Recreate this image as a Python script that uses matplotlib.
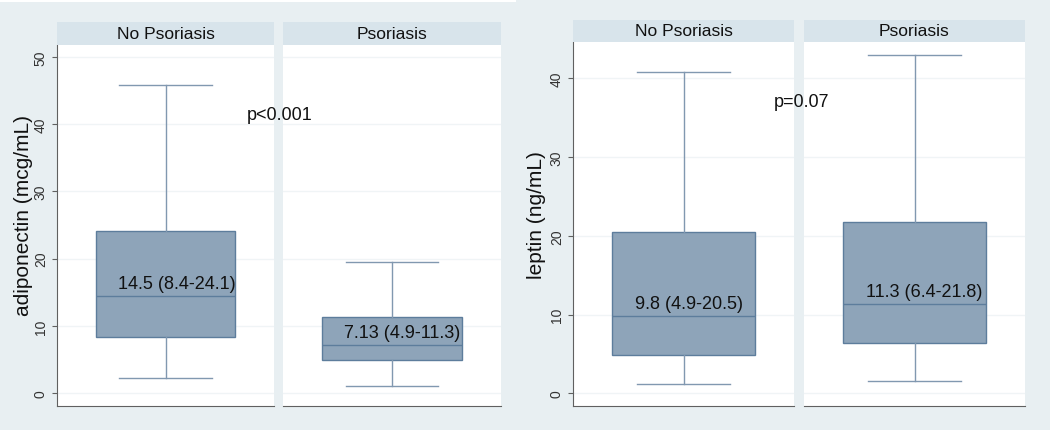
import matplotlib
matplotlib.use("Agg")
import matplotlib.pyplot as plt
from matplotlib.patches import Rectangle

plt.rcParams['font.family'] = ['Liberation Sans', 'DejaVu Sans']

# ---------------- data ----------------
groups = ["No Psoriasis", "Psoriasis"]

adipo_med = [14.5, 7.13]
adipo_q1 = [8.4, 4.9]
adipo_q3 = [24.1, 11.3]
adipo_lo = [2.3, 1.1]
adipo_hi = [45.8, 19.5]
adipo_labels = ["14.5 (8.4-24.1)", "7.13 (4.9-11.3)"]
adipo_ticks = [0, 10, 20, 30, 40, 50]
adipo_p = "p<0.001"

lep_med = [9.8, 11.3]
lep_q1 = [4.9, 6.4]
lep_q3 = [20.5, 21.8]
lep_lo = [1.2, 1.6]
lep_hi = [40.8, 42.9]
lep_labels = ["9.8 (4.9-20.5)", "11.3 (6.4-21.8)"]
lep_ticks = [0, 10, 20, 30, 40]
lep_p = "p=0.07"

# ---------------- style ----------------
W, H = 1050, 431
BG = "#e8eff2"
STRIP = "#d8e4eb"
BOX_FILL = "#8ea4b9"
BOX_EDGE = "#5d7d9c"
WHISK = "#8198b0"
GRID = "#f0f4f6"
AXC = "#606060"
TXT = "#111111"

fig = plt.figure(figsize=(W / 100, H / 100), dpi=100, facecolor=BG)
fig.add_artist(Rectangle((0, 1 - 3 / H), 516 / W, 3 / H, transform=fig.transFigure,
                         facecolor="white", edgecolor="none", zorder=-1))


def px_axes(x0, x1, ytop, ybot):
    return fig.add_axes([x0 / W, 1 - ybot / H, (x1 - x0) / W, (ybot - ytop) / H])


def make_block(panels_x, ytop_strip, ytop, ybot, ylim, ticks, med, q1, q3, lo, hi,
               labels, ylabel, pstr, pxy, label_coords):
    axes = []
    for i, (x0, x1) in enumerate(panels_x):
        ax = px_axes(x0, x1, ytop, ybot)
        ax.set_facecolor("white")
        stats = [dict(med=med[i], q1=q1[i], q3=q3[i], whislo=lo[i], whishi=hi[i], fliers=[])]
        ax.bxp(stats, positions=[0], widths=0.643, capwidths=0.425, showfliers=False,
               patch_artist=True,
               boxprops=dict(facecolor=BOX_FILL, edgecolor=BOX_EDGE, linewidth=1.0),
               medianprops=dict(color=BOX_EDGE, linewidth=1.0),
               whiskerprops=dict(color=WHISK, linewidth=1.0),
               capprops=dict(color=WHISK, linewidth=1.0))
        ax.set_xlim(-0.5, 0.5)
        ax.set_ylim(*ylim)
        ax.set_yticks(ticks)
        ax.grid(axis="y", color=GRID, linewidth=1.0, zorder=0)
        ax.set_axisbelow(True)
        ax.set_xticks([])
        for s in ["top", "right"]:
            ax.spines[s].set_visible(False)
        ax.spines["bottom"].set_color(AXC)
        ax.spines["left"].set_color(AXC)
        if i == 0:
            ax.tick_params(axis="y", length=3.6, width=0.8, color=AXC, pad=3.0,
                           labelsize=10, labelcolor="#333333", labelrotation=90)
            for t in ax.get_yticklabels():
                t.set_va("center")
            ax.set_ylabel(ylabel, fontsize=15, color=TXT)
            ax.yaxis.set_label_coords(*label_coords)
        else:
            ax.spines["left"].set_visible(False)
            ax.tick_params(axis="y", length=0, labelleft=False)
        ax.annotate(labels[i], xy=(-0.22, med[i]), xytext=(0, 9),
                    textcoords="offset points", ha="left", va="center",
                    fontsize=13, color=TXT, zorder=5, annotation_clip=False)
        # strip header
        sax = px_axes(x0, x1, ytop_strip, ytop)
        sax.set_facecolor(STRIP)
        sax.set_xticks([]); sax.set_yticks([])
        for s in sax.spines.values():
            s.set_visible(False)
        sax.text(0.5, 0.5, groups[i], ha="center", va="center", fontsize=12.5,
                 color=TXT, transform=sax.transAxes)
        axes.append(ax)
    fig.text(pxy[0], pxy[1], pstr, transform=axes[0].transData, ha="left", va="center",
             fontsize=13, color=TXT, zorder=10)
    return axes


make_block([(57, 274), (283, 501)], 23, 46, 407, (-1.93, 51.8), adipo_ticks,
           adipo_med, adipo_q1, adipo_q3, adipo_lo, adipo_hi, adipo_labels,
           "adiponectin (mcg/mL)", adipo_p, (0.376, 41.5), (-0.11, 0.53))

make_block([(573, 794), (804, 1025)], 21, 43, 407, (-1.61, 44.6), lep_ticks,
           lep_med, lep_q1, lep_q3, lep_lo, lep_hi, lep_labels,
           "leptin (ng/mL)", lep_p, (0.408, 37.0), (-0.12, 0.527))

fig.savefig("out.png", dpi=100, facecolor=BG)
